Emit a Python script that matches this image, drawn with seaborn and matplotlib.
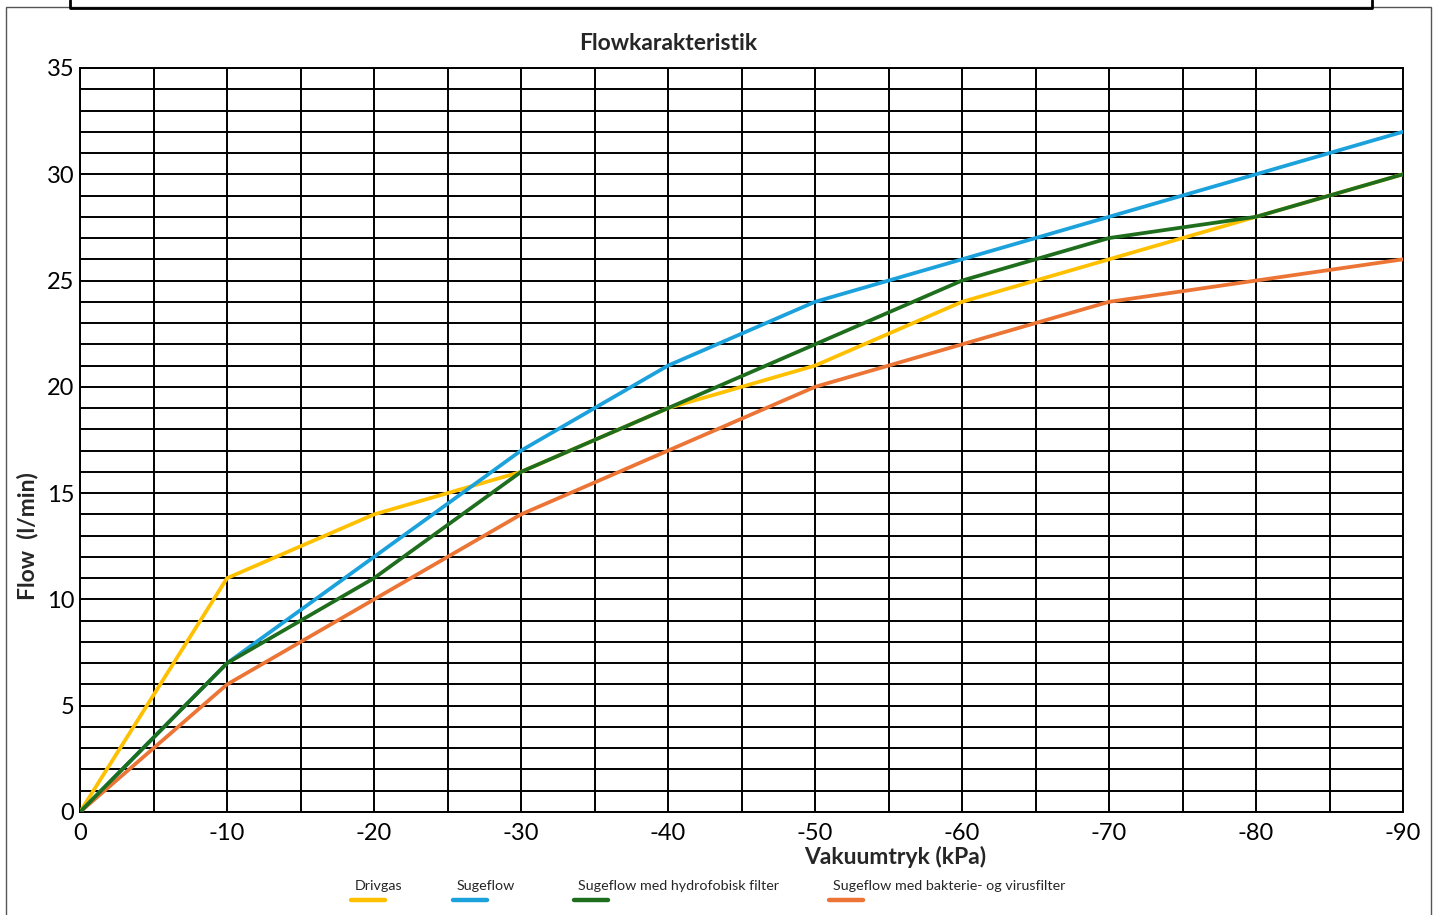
import matplotlib
matplotlib.use("Agg")
import matplotlib.pyplot as plt
import pandas as pd
import seaborn as sns
from matplotlib.lines import Line2D
from matplotlib.patches import Rectangle

# vacuum pressure (kPa) and flow (l/min)
vacuum = [0, -10, -20, -30, -40, -50, -60, -70, -80, -90]
drivgas = [0, 11, 14, 16, 19, 21, 24, 26, 28, 30]
sugeflow = [0, 7, 12, 17, 21, 24, 26, 28, 30, 32]
hydrofobisk = [0, 7, 11, 16, 19, 22, 25, 27, 28, 30]
bakterie = [0, 6, 10, 14, 17, 20, 22, 24, 25, 26]

series_names = [
    "Drivgas",
    "Sugeflow",
    "Sugeflow med hydrofobisk filter",
    "Sugeflow med bakterie- og virusfilter",
]
colors = ["#FFC000", "#1BA1DC", "#1E6E1E", "#EC7435"]
x_ticks = [0, -10, -20, -30, -40, -50, -60, -70, -80, -90]
y_ticks = [0, 5, 10, 15, 20, 25, 30, 35]

df = pd.concat(
    [
        pd.DataFrame({"Vakuum": vacuum, "Flow": vals, "Serie": name})
        for name, vals in zip(series_names, [drivgas, sugeflow, hydrofobisk, bakterie])
    ]
)

sns.set_theme(style="white")
plt.rcParams["font.family"] = ["Lato", "DejaVu Sans"]

fig = plt.figure(figsize=(14.38, 9.15), dpi=100)
ax = fig.add_axes([80 / 1438, 1 - 812 / 915, 1323 / 1438, 744 / 915])

palette = dict(zip(series_names, colors))
draw_order = [series_names[0], series_names[1], series_names[3], series_names[2]]
sns.lineplot(
    data=df, x="Vakuum", y="Flow", hue="Serie", hue_order=draw_order,
    palette=palette, linewidth=2.7, legend=False, ax=ax, zorder=3,
)

ax.set_xlim(0, -90)
ax.set_ylim(0, 35)
ax.set_xticks(range(0, -91, -5), minor=True)
ax.set_yticks(range(0, 36), minor=True)
ax.set_xticks(x_ticks)
ax.set_xticklabels([str(v) for v in x_ticks])
ax.set_yticks(y_ticks)
ax.grid(True, which="both", color="black", linewidth=1.4)
ax.tick_params(which="both", length=0, labelsize=17, colors="black")
ax.tick_params(axis="x", pad=8)
ax.tick_params(axis="y", pad=4)
for sp in ax.spines.values():
    sp.set_color("black")
    sp.set_linewidth(1.4)

ax.set_xlabel("")
ax.set_ylabel("")
fig.text(895 / 1438, 1 - 857 / 915, "Vakuumtryk (kPa)", ha="center", va="center",
         fontsize=16.5, fontweight="bold")
fig.text(28 / 1438, 1 - 536 / 915, "Flow  (l/min)", ha="center", va="center",
         rotation=90, fontsize=16.5, fontweight="bold")
fig.text(668 / 1438, 1 - 44 / 915, "Flowkarakteristik", ha="center", va="center",
         fontsize=16.5, fontweight="bold")

# legend: label above a short coloured line
legend_x = [355, 457, 578, 833]
for name, col, lx in zip(series_names, colors, legend_x):
    fig.text(lx / 1438, 1 - 886 / 915, name, ha="left", va="center", fontsize=10.3)
    fig.add_artist(Line2D([(lx - 4) / 1438, (lx + 30) / 1438],
                          [1 - 900 / 915, 1 - 900 / 915],
                          color=col, linewidth=3.2, solid_capstyle="round"))

# frames around the figure
fig.add_artist(Rectangle((6 / 1438, -0.01), 1425 / 1438, 1 - 7 / 915 + 0.01,
                         fill=False, edgecolor="#555555", linewidth=1.0))
fig.add_artist(Line2D([70 / 1438, 70 / 1438, 1372 / 1438, 1372 / 1438],
                      [1.0, 1 - 8 / 915, 1 - 8 / 915, 1.0],
                      color="black", linewidth=2.0))

fig.savefig("out.png", dpi=100)
